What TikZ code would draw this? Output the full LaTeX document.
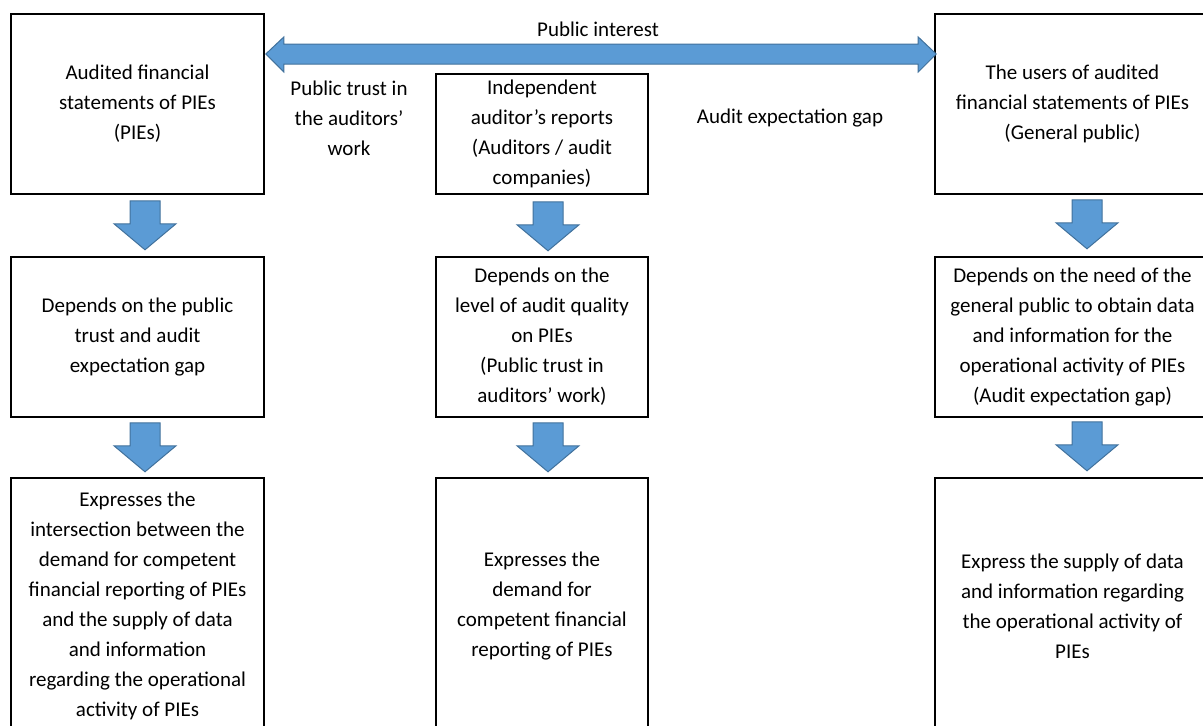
\documentclass[tikz,border=0pt]{standalone}
\usepackage{fontspec}
\setmainfont{Carlito}
\usetikzlibrary{calc}
\definecolor{arrfill}{HTML}{5B9BD5}
\definecolor{arrline}{HTML}{41719C}
\tikzset{
  box/.style={draw=black, line width=1.6pt, fill=white, align=center, inner sep=0pt,
    font=\fontsize{21}{30}\selectfont},
  lbl/.style={align=center, inner sep=0pt, font=\fontsize{21}{30}\selectfont},
  blockarrow/.style={fill=arrfill, draw=arrline, line width=1pt, line join=miter}
}
\newcommand\DownBlk[1]{%
  \filldraw[blockarrow] (#1) ++(-15,0) -- ++(30,0) -- ++(0,23) -- ++(16,0)
    -- ++(-31,26) -- ++(-31,-26) -- ++(16,0) -- cycle;}
\begin{document}
\begin{tikzpicture}[x=1pt,y=-1pt]
\useasboundingbox (0,0) rectangle (1203,726);
% top row
\node[box, minimum width=253pt, minimum height=180pt] (tl) at (137.5,104)
  {Audited financial\\statements of PIEs\\(PIEs)};
\node[box, minimum width=212pt, minimum height=120pt] (tm) at (542,134)
  {Independent\\auditor’s reports\\(Auditors / audit\\companies)};
\node[box, minimum width=275pt, minimum height=180pt] (tr) at (1072.5,104)
  {The users of audited\\financial statements of PIEs\\(General public)};
% middle row
\node[box, minimum width=253pt, minimum height=160pt] (ml) at (137.5,337)
  {Depends on the public\\trust and audit\\expectation gap};
\node[box, minimum width=212pt, minimum height=160pt] (mm) at (542,337)
  {Depends on the\\level of audit quality\\on PIEs\\(Public trust in\\auditors’ work)};
\node[box, minimum width=275pt, minimum height=160pt] (mr) at (1072.5,337)
  {Depends on the need of the\\general public to obtain data\\and information for the\\operational activity of PIEs\\(Audit expectation gap)};
% bottom row
\node[box, minimum width=253pt, minimum height=256pt] (bl) at (137.5,606)
  {Expresses the\\intersection between the\\demand for competent\\financial reporting of PIEs\\and the supply of data\\and information\\regarding the operational\\activity of PIEs};
\node[box, minimum width=212pt, minimum height=256pt] (bm) at (542,606)
  {Expresses the\\demand for\\competent financial\\reporting of PIEs};
\node[box, minimum width=275pt, minimum height=256pt] (br) at (1072.5,606)
  {Express the supply of data\\and information regarding\\the operational activity of\\PIEs};
% labels
\node[lbl] (pi) at (598,29) {Public interest};
\node[lbl] (pt) at (349,118) {Public trust in\\the auditors’\\work};
\node[lbl] (aeg) at (790,118) {Audit expectation gap};
% double arrow between top boxes
\coordinate (dl) at ($(tl.east |- 0,54)+(1,0)$);
\coordinate (dr) at ($(tr.west |- 0,54)+(2,0)$);
\filldraw[blockarrow] (dl) -- ++(18,-17) -- ++(0,7) -- ($(dr)+(-18,-10)$) -- ++(0,-7)
  -- (dr) -- ++(-18,18) -- ++(0,-8) -- ($(dl)+(18,10)$) -- ++(0,8) -- cycle;
% down arrows
\coordinate (a1) at ($(tl.south)+(7.5,6)$);
\coordinate (a2) at ($(ml.south)+(7.5,5)$);
\coordinate (a3) at ($(tm.south)+(6,7)$);
\coordinate (a4) at ($(mm.south)+(6,5)$);
\coordinate (a5) at ($(tr.south)+(14.5,5)$);
\coordinate (a6) at ($(mr.south)+(14.5,4)$);
\DownBlk{a1}
\DownBlk{a2}
\DownBlk{a3}
\DownBlk{a4}
\DownBlk{a5}
\DownBlk{a6}
\end{tikzpicture}
\end{document}
